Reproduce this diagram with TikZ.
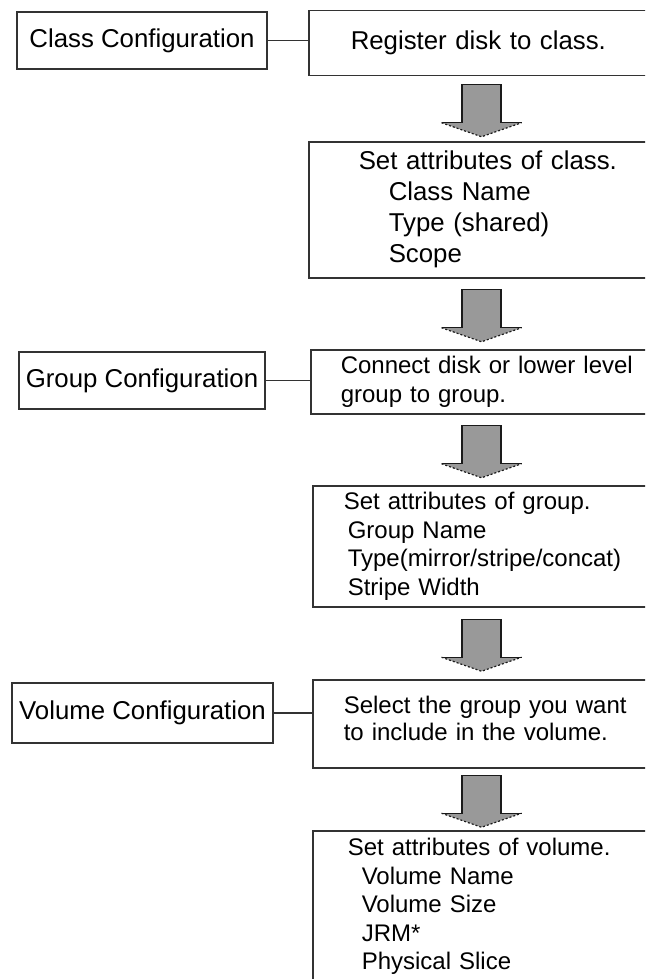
\documentclass[tikz,border=0pt]{standalone}
\usepackage{fontspec}
\setmainfont{Liberation Sans}
\usetikzlibrary{calc}
\definecolor{BoxLine}{HTML}{333333}
\definecolor{ArrowFill}{HTML}{999999}
\definecolor{ArrowLine}{HTML}{1A1A1A}
\newcommand{\levelfont}{\fontsize{25.8}{31}\selectfont}
\newcommand{\stepfont}{\fontsize{24}{28.5}\selectfont}
\tikzset{
    % Configuration level label
    levelnode/.style={
        draw=BoxLine,
        fill=white,
        line width=1.5pt,
        inner sep=0pt,
        align=center,
        font=\levelfont
    },
    % Step box, its right side runs off the page
    stepnode/.style={
        draw=BoxLine,
        fill=white,
        line width=1.5pt,
        anchor=north west,
        inner ysep=0pt,
        text width=300pt,
        align=left,
        font=\stepfont
    },
    % Joining line
    joinline/.style={
        draw=BoxLine,
        line width=1.3pt
    },
    % Big grey down arrow
    downarrow/.pic={
        \fill[ArrowFill] (-19.5,-26) -- (19.5,-26) -- (19.5,12) -- (40,12) -- (0,26) -- (-40,12) -- (-19.5,12) -- cycle;
        \draw[ArrowLine, line width=1.2pt] (-40,12) -- (-19.5,12) -- (-19.5,-26) -- (19.5,-26) -- (19.5,12) -- (40,12);
        \draw[ArrowLine, line width=1.2pt, dash pattern=on 2pt off 2pt] (-40,12) -- (0,26) -- (40,12);
    }
}

\begin{document}
\begin{tikzpicture}[x=1pt, y=-1pt]
    \useasboundingbox (0,0) rectangle (645,979);
    \clip (0,0) rectangle (645,979);
    \fill[white] (0,0) rectangle (645,979);

    % class
    \node[levelnode, minimum width=250, minimum height=57] (classcfg) at (142,40.5) {Class Configuration};
    \node[stepnode, font=\levelfont, inner xsep=42, minimum height=65] (register) at (308,10) {Register disk to class.};
    \node[stepnode, font=\levelfont, inner xsep=50, minimum height=136] (classattr) at (308,141)
        {Set attributes of class.\\\hspace*{30pt}Class Name\\\hspace*{30pt}Type (shared)\\\hspace*{30pt}Scope};

    % group
    \node[levelnode, minimum width=246, minimum height=57] (groupcfg) at (142,380.5) {Group Configuration};
    \node[stepnode, inner xsep=30, minimum height=64] (connect) at (310,349) {Connect disk or lower level\\group to group.};
    \node[stepnode, inner xsep=31, minimum height=121] (groupattr) at (312,485)
        {Set attributes of group.\\\hspace*{4pt}Group Name\\\hspace*{4pt}Type(mirror/stripe/concat)\\\hspace*{4pt}Stripe Width};

    % volume
    \node[levelnode, minimum width=261, minimum height=60] (volumecfg) at (142.5,713) {Volume Configuration};
    \node[stepnode, font=\fontsize{24}{27}\selectfont, text depth=38pt, inner xsep=31, minimum height=88] (select) at (312,679)
        {Select the group you want\\to include in the volume.};
    \node[stepnode, inner xsep=35, minimum height=152] (volumeattr) at (312,830)
        {Set attributes of volume.\\\hspace*{14pt}Volume Name\\\hspace*{14pt}Volume Size\\\hspace*{14pt}JRM*\\\hspace*{14pt}Physical Slice};

    \draw[joinline] (classcfg.east) -- (classcfg.east -| register.west);
    \draw[joinline] (groupcfg.east) -- (groupcfg.east -| connect.west);
    \draw[joinline] (volumecfg.east) -- (volumecfg.east -| select.west);

    \coordinate (axis) at (481.5,0);
    \foreach \a/\b in {register/classattr, classattr/connect, connect/groupattr, groupattr/select, select/volumeattr}{
        \coordinate (mid) at ($(\a.south)!0.5!(\b.north)$);
        \pic[yshift=-2pt] at (axis |- mid) {downarrow};
    }
\end{tikzpicture}
\end{document}
